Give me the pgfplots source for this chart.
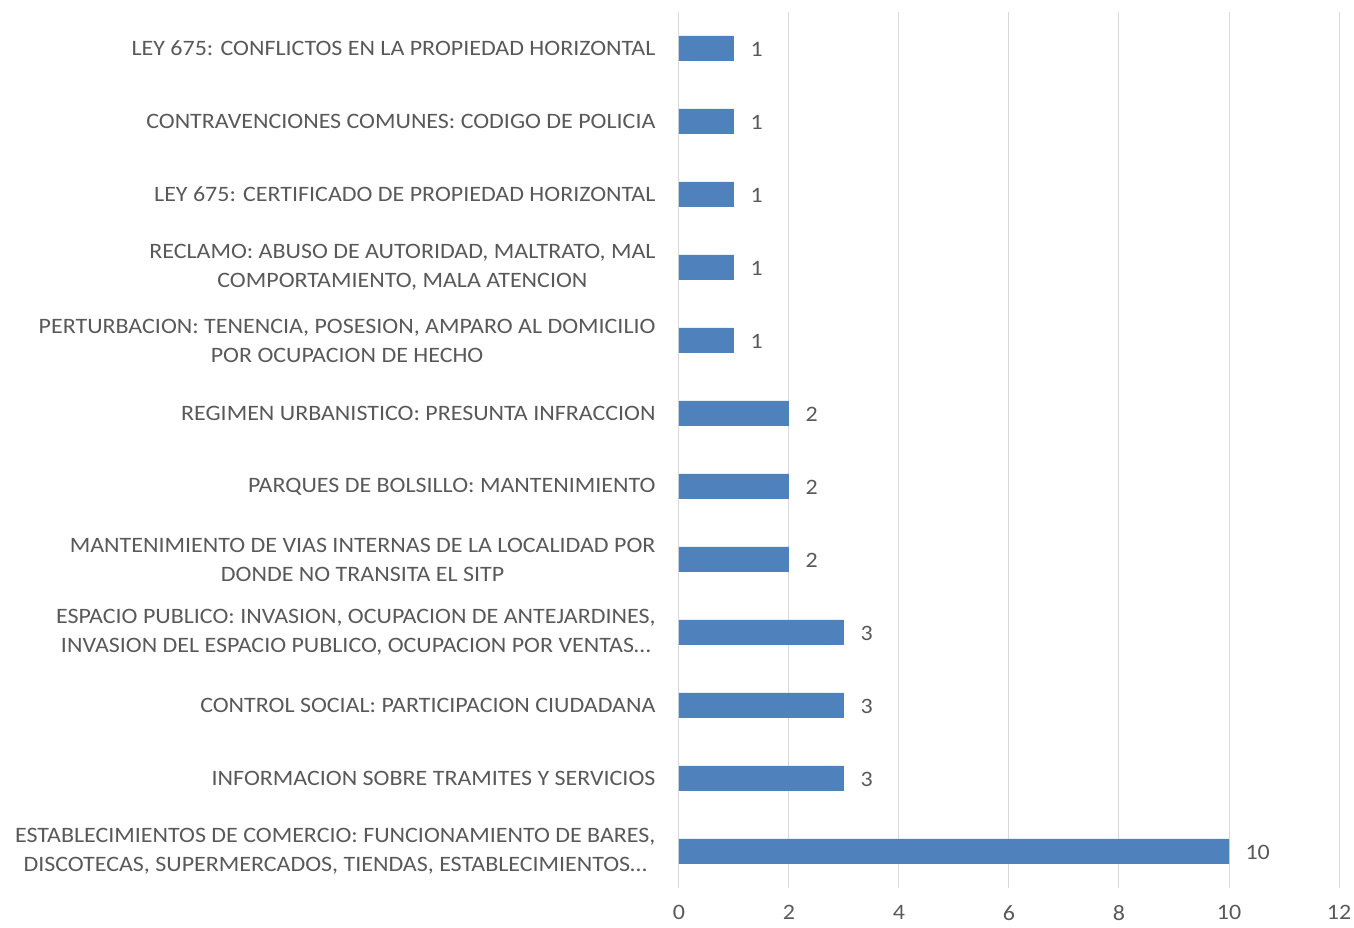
\documentclass[border=0pt]{standalone}
\usepackage{pgfplots}
\pgfplotsset{compat=1.18}
\usepackage{fontspec}
\setmainfont{Carlito}[FakeStretch=1.09]
\definecolor{barblue}{HTML}{4F81BD}
\definecolor{txtgrey}{HTML}{595959}
\definecolor{gridgrey}{HTML}{D9D9D9}
\pgfplotstableread{
y v
0 10
1 3
2 3
3 3
4 2
5 2
6 2
7 1
8 1
9 1
10 1
11 1
}\datatable
\begin{document}
\begin{tikzpicture}
\useasboundingbox (-679pt,-40pt) rectangle (675pt,888pt);
\begin{axis}[
  at={(0pt,0pt)}, anchor=south west,
  scale only axis, width=660pt, height=876pt,
  xbar, bar width=25pt,
  xmin=0, xmax=12, ymin=-0.5, ymax=11.5,
  xtick={0,2,...,12},
  ytick={0,...,11},
  yticklabels={
    {ESTABLECIMIENTOS DE COMERCIO: FUNCIONAMIENTO DE BARES,\\DISCOTECAS, SUPERMERCADOS, TIENDAS, ESTABLECIMIENTOS…},
    {INFORMACION SOBRE TRAMITES Y SERVICIOS},
    {CONTROL SOCIAL: PARTICIPACION CIUDADANA},
    {ESPACIO PUBLICO: INVASION, OCUPACION DE ANTEJARDINES,\\INVASION DEL ESPACIO PUBLICO, OCUPACION POR VENTAS…},
    {MANTENIMIENTO DE VIAS INTERNAS DE LA LOCALIDAD POR\\DONDE NO TRANSITA EL SITP},
    {PARQUES DE BOLSILLO: MANTENIMIENTO},
    {REGIMEN URBANISTICO: PRESUNTA INFRACCION},
    {PERTURBACION: TENENCIA, POSESION, AMPARO AL DOMICILIO\\POR OCUPACION DE HECHO},
    {RECLAMO: ABUSO DE AUTORIDAD, MALTRATO, MAL\\COMPORTAMIENTO, MALA ATENCION},
    {LEY 675: CERTIFICADO DE PROPIEDAD HORIZONTAL},
    {CONTRAVENCIONES COMUNES: CODIGO DE POLICIA},
    {LEY 675: CONFLICTOS EN LA PROPIEDAD HORIZONTAL}
  },
  yticklabel style={align=center, font=\fontsize{22}{29}\selectfont, text=txtgrey, xshift=-20pt},
  xticklabel style={font=\fontsize{22}{26}\selectfont, text=txtgrey, yshift=-16pt, inner sep=1pt},
  /pgf/number format/assume math mode=true,
  major tick length=0pt,
  axis line style={draw=none},
  xmajorgrids, grid style={gridgrey, line width=1pt},
  nodes near coords,
  every node near coord/.append style={anchor=west, xshift=13pt, yshift=-1pt, font=\fontsize{22}{26}\selectfont, text=txtgrey},
]
\addplot[fill=barblue, draw=none] table[x=v, y=y] {\datatable};
\end{axis}
\end{tikzpicture}
\end{document}
